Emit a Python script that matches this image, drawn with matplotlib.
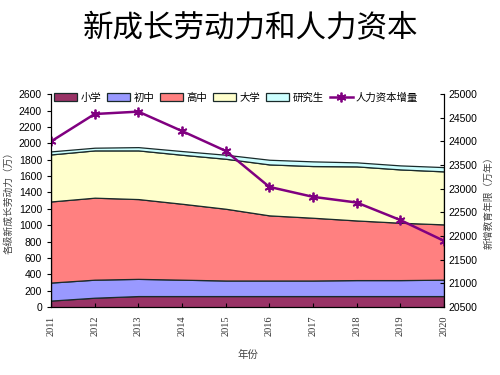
import matplotlib
matplotlib.use("Agg")
import matplotlib.pyplot as plt
import numpy as np

plt.rcParams['font.family'] = ['Noto Sans CJK SC', 'DejaVu Sans']

years = ["2011", "2012", "2013", "2014", "2015", "2016", "2017", "2018", "2019", "2020"]
layer_names = ["小学", "初中", "高中", "大学", "研究生"]
primary = [80, 115, 135, 135, 135, 135, 135, 135, 135, 135]
junior = [220, 220, 210, 200, 190, 190, 190, 195, 195, 200]
senior = [990, 1001, 974, 927, 876, 795, 766, 728, 700, 675]
college = [574, 577, 594, 598, 610, 622, 631, 660, 651, 647]
graduate = [37, 33, 40, 45, 49, 57, 57, 49, 49, 52]
capital = [24000, 24580, 24630, 24220, 23800, 23040, 22830, 22710, 22340, 21900]

colors = ["#993366", "#9999FF", "#FF8080", "#FFFFCC", "#CCFFFF"]

fig = plt.figure(figsize=(5, 3.75), dpi=100)
ax = fig.add_axes([0.102, 0.181, 0.786, 0.568])
x = np.arange(len(years))

layers = [primary, junior, senior, college, graduate]
ax.stackplot(x, layers, colors=colors, labels=layer_names,
             edgecolor="#1a2a2a", linewidth=0.9)

ax.set_xlim(0, len(years) - 1)
ax.set_ylim(0, 2600)
ax.set_yticks(np.arange(0, 2601, 200))
ax.set_xticks(x)
ax.set_xticklabels(years, rotation=90, family="Liberation Serif", fontsize=7.5,
                   color="#333333")
ax.tick_params(axis="y", labelsize=7.5, length=3, direction="out")
ax.tick_params(axis="x", length=3, direction="in", pad=6)
for lab in ax.get_yticklabels():
    lab.set_family("Liberation Sans")
ax.spines["top"].set_visible(False)
ax.set_ylabel("各级新成长劳动力（万）", fontsize=7, color="#444444", labelpad=4)
ax.set_xlabel("年份", fontsize=7.5, color="#444444", labelpad=10)

ax2 = ax.twinx()
line, = ax2.plot(x, capital, color="#800080", linewidth=1.8, marker=(6, 2, 0),
                 markersize=7, markeredgewidth=1.3, label="人力资本增量")
ax2.set_ylim(20500, 25000)
ax2.set_yticks(np.arange(20500, 25001, 500))
ax2.tick_params(axis="y", labelsize=7.5, length=3, direction="in")
for lab in ax2.get_yticklabels():
    lab.set_family("Liberation Sans")
ax2.spines["top"].set_visible(False)
ax2.set_ylabel("新增教育年限（万年）", fontsize=7, color="#444444", labelpad=4)

handles, labels = ax.get_legend_handles_labels()
handles.append(line)
labels.append("人力资本增量")
leg = fig.legend(handles, labels, loc="upper left", bbox_to_anchor=(0.1, 0.765),
                 ncol=6, frameon=False, fontsize=7.5, handlelength=2.2,
                 handletextpad=0.3, columnspacing=0.6, borderaxespad=0)

fig.suptitle("新成长劳动力和人力资本", fontsize=22, fontweight="medium", y=0.965)

fig.savefig("out.png", dpi=100)
